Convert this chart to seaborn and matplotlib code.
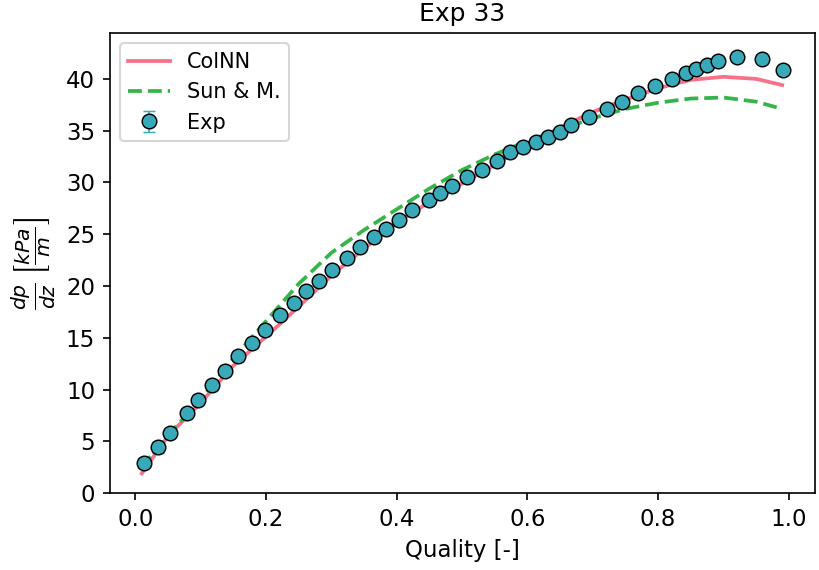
import matplotlib
matplotlib.use("Agg")
import matplotlib.pyplot as plt
import numpy as np
import pandas as pd
import seaborn as sns

# Experimental points (quality, dp/dz in kPa/m)
exp_quality = [0.014, 0.035, 0.053, 0.079, 0.096, 0.118, 0.137, 0.157, 0.179, 0.198,
               0.221, 0.243, 0.261, 0.281, 0.301, 0.324, 0.344, 0.365, 0.383, 0.403,
               0.424, 0.449, 0.467, 0.485, 0.507, 0.530, 0.553, 0.574, 0.594, 0.614,
               0.632, 0.650, 0.667, 0.695, 0.722, 0.745, 0.769, 0.795, 0.821, 0.843,
               0.858, 0.875, 0.892, 0.921, 0.959, 0.991]
exp_dpdz = [2.9, 4.4, 5.8, 7.7, 9.0, 10.4, 11.8, 13.2, 14.5, 15.7,
            17.2, 18.4, 19.5, 20.5, 21.5, 22.7, 23.8, 24.7, 25.5, 26.4,
            27.3, 28.3, 29.0, 29.7, 30.5, 31.2, 32.1, 32.9, 33.4, 33.9,
            34.4, 34.9, 35.5, 36.3, 37.1, 37.8, 38.6, 39.3, 40.0, 40.6,
            41.0, 41.3, 41.7, 42.1, 41.9, 40.9]
exp_err = [0.5, 0.5, 0.4, 0.4, 0.4, 0.4, 0.4, 0.4, 0.4, 0.4,
           0.4, 0.4, 0.3, 0.3, 0.3, 0.3, 0.3, 0.3, 0.3, 0.3,
           0.3, 0.3, 0.3, 0.3, 0.3, 0.3, 0.3, 0.3, 0.3, 0.3,
           0.3, 0.3, 0.3, 0.3, 0.3, 0.3, 0.3, 0.3, 0.3, 0.3,
           0.3, 0.3, 0.3, 0.3, 0.3, 0.3]

# Model curves
model_quality = [0.01, 0.05, 0.10, 0.15, 0.20, 0.25, 0.30, 0.35, 0.40, 0.45, 0.50,
                 0.55, 0.60, 0.65, 0.70, 0.75, 0.80, 0.85, 0.90, 0.95, 0.99]
colnn_dpdz = [1.9, 5.5, 8.7, 12.3, 15.1, 18.0, 21.0, 23.6, 26.1, 28.1, 29.9,
              31.7, 33.6, 35.3, 36.8, 38.0, 39.1, 39.9, 40.2, 40.0, 39.4]
sun_dpdz = [2.5, 5.6, 9.0, 13.0, 16.6, 20.2, 23.2, 25.4, 27.4, 29.4, 31.2,
            32.7, 34.0, 35.1, 36.2, 37.1, 37.7, 38.1, 38.2, 37.8, 37.1]

c_colnn, c_sun, c_exp = "#f77189", "#36b44a", "#38a9b9"

df_lines = pd.DataFrame({"x": model_quality, "ColNN": colnn_dpdz, "Sun": sun_dpdz})

fig = plt.figure(figsize=(819 / 150, 570 / 150), dpi=150)
ax = fig.add_axes([0.134, 0.135, 0.861, 0.807])

sns.lineplot(data=df_lines, x="x", y="ColNN", ax=ax, color=c_colnn, lw=1.8, label="ColNN")
sns.lineplot(data=df_lines, x="x", y="Sun", ax=ax, color=c_sun, lw=1.8, ls="--", label="Sun & M.")
ax.errorbar(exp_quality, exp_dpdz, yerr=exp_err, fmt="o", color=c_exp, ecolor=c_exp,
            mec="black", mew=0.7, ms=7, capsize=3, elinewidth=0.8, label="Exp")

ax.set_ylim(bottom=0)
ax.tick_params(labelsize=11)
ax.set_title("Exp 33", fontsize=12)
ax.set_xlabel("Quality [-]", fontsize=11)
ax.set_ylabel(r"$\frac{dp}{dz}\,\left[\frac{kPa}{m}\right]$", fontsize=14)
ax.legend(loc="upper left", fontsize=10)

fig.savefig("out.png", dpi=150)
